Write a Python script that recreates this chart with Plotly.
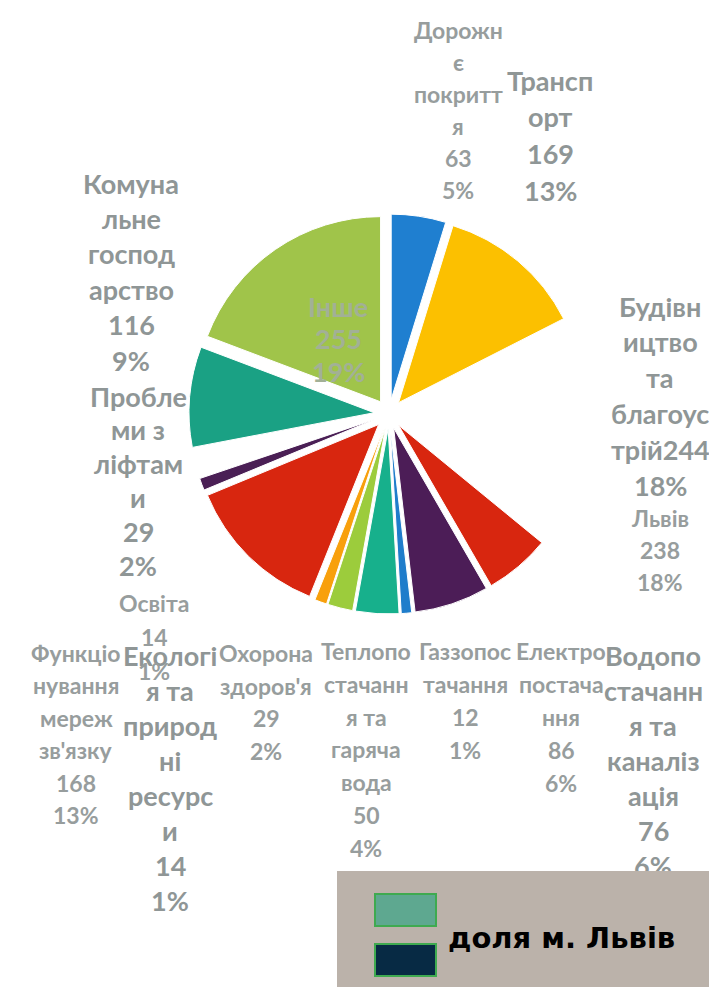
import plotly.graph_objects as go

# ---------------- data ----------------
categories = ["Дорожнє покриття", "Транспорт", "Будівництво та благоустрій",
              "Водопостачання та каналізація", "Електропостачання", "Газзопостачання",
              "Теплопостачання та гаряча вода", "Охорона здоров'я",
              "Екологія та природні ресурси", "Функціонування мереж зв'язку",
              "Освіта", "Проблеми з ліфтами", "Комунальне господарство", "Інше"]
values = [63, 169, 244, 76, 86, 12, 50, 29, 14, 168, 14, 29, 116, 255]
percents = ["5%", "13%", "18%", "6%", "6%", "1%", "4%", "2%", "1%", "13%", "1%", "2%", "9%", "19%"]

lviv_name = "Львів"
lviv_value = 238
lviv_percent = "18%"

legend_text = "доля м. Львів"

# wrapped label text as shown on the chart
wrapped = [
    ["Дорожн", "є", "покритт", "я"],
    ["Трансп", "орт"],
    ["Будівн", "ицтво", "та", "благоус", "трій"],
    ["Водопо", "стачанн", "я та", "каналіз", "ація"],
    ["Електро", "постача", "ння"],
    ["Газзопос", "тачання"],
    ["Теплопо", "стачанн", "я та", "гаряча", "вода"],
    ["Охорона", "здоров'я"],
    ["Екологі", "я та", "природ", "ні", "ресурс", "и"],
    ["Функціо", "нування", "мереж", "зв'язку"],
    ["Освіта"],
    ["Пробле", "ми з", "ліфтам", "и"],
    ["Комуна", "льне", "господ", "арство"],
    ["Інше"],
]

# ---------------- styles / layout ----------------
W, H = 717, 987
slice_colors = ["#1f7fd0", "#fcc000", "rgba(0,0,0,0)", "#d8260f", "#4c1d57", "#1f7dcb",
                "#17b08c", "#9ccc3c", "#f8a00c", "#d8260f", "#4a1f55", "rgba(0,0,0,0)",
                "#1aa184", "#a0c44a"]
pulls = [0.08] * len(values)

# label block placement: (center x px, first line y px, line spacing px, heavy)
label_pos = [
    (450, 22, 32.0, False),
    (542, 72, 36.7, True),
    (652, 298, 35.8, True),
    (645, 647, 35.0, True),
    (553, 643, 33.0, False),
    (457, 643, 33.0, False),
    (358, 643, 32.8, False),
    (258, 645, 32.5, False),
    (162, 647, 35.1, True),
    (68, 645, 32.4, False),
    (146, 595, 34.0, False),
    (130, 388, 33.8, True),
    (123, 175, 35.4, True),
    (330, 298, 32.5, True),
]
lviv_pos = (652, 510, 32.0, False)

TXT = "#8f9696"
TXT_LIGHT = "#979d9d"
INNER_TXT = "#a2b096"


def px(x):
    return x / W


def py(y):
    return 1 - y / H


fig = go.Figure()
fig.add_trace(go.Pie(
    labels=categories, values=values, sort=False, direction="clockwise", rotation=0,
    pull=pulls, textinfo="none", hoverinfo="label+value+percent",
    marker=dict(colors=slice_colors, line=dict(color="white", width=1)),
    domain=dict(x=[px(181), px(581)], y=[py(606), py(206)]),
    showlegend=False,
))

annotations = []


def add_block(lines, pos, color=None):
    cx, y0, sp, heavy = pos
    if color is None:
        color = TXT if heavy else TXT_LIGHT
    for i, line in enumerate(lines):
        annotations.append(dict(
            x=px(cx), y=py(y0 + i * sp), xref="paper", yref="paper",
            text=f"<b>{line}</b>",
            showarrow=False, xanchor="center", yanchor="middle",
            font=dict(family="Lato, Open Sans, sans-serif",
                      size=27 if heavy else 23, color=color),
        ))


for i, name_lines in enumerate(wrapped):
    if categories[i].startswith("Будівництво"):
        lines = name_lines[:-1] + [name_lines[-1] + str(values[i]), percents[i]]
    else:
        lines = name_lines + [str(values[i]), percents[i]]
    add_block(lines, label_pos[i], INNER_TXT if categories[i] == "Інше" else None)

add_block([lviv_name, str(lviv_value), lviv_percent], lviv_pos)

# legend box (drawn over labels, as in the original)
annotations.append(dict(
    x=px(329), y=py(863), xref="paper", yref="paper", xanchor="left", yanchor="top",
    text=" ", showarrow=False, width=W - 329, height=H - 863, bgcolor="#bbb2aa",
    borderpad=0, borderwidth=0,
))
for (top, col) in [(885, "#5ea890"), (935, "#072a44")]:
    annotations.append(dict(
        x=px(366), y=py(top), xref="paper", yref="paper", xanchor="left", yanchor="top",
        text=" ", showarrow=False, width=59, height=30, bgcolor=col,
        bordercolor="#3eaa50", borderwidth=2, borderpad=0,
    ))
annotations.append(dict(
    x=px(438), y=py(930), xref="paper", yref="paper", xanchor="left", yanchor="middle",
    text=f"<b>{legend_text}</b>", showarrow=False,
    font=dict(family="DejaVu Sans", size=29, color="#000000"),
))

fig.update_layout(
    width=W, height=H, margin=dict(l=0, r=0, t=0, b=0),
    paper_bgcolor="white", plot_bgcolor="white",
    annotations=annotations,
)

fig.write_html("out.html")
